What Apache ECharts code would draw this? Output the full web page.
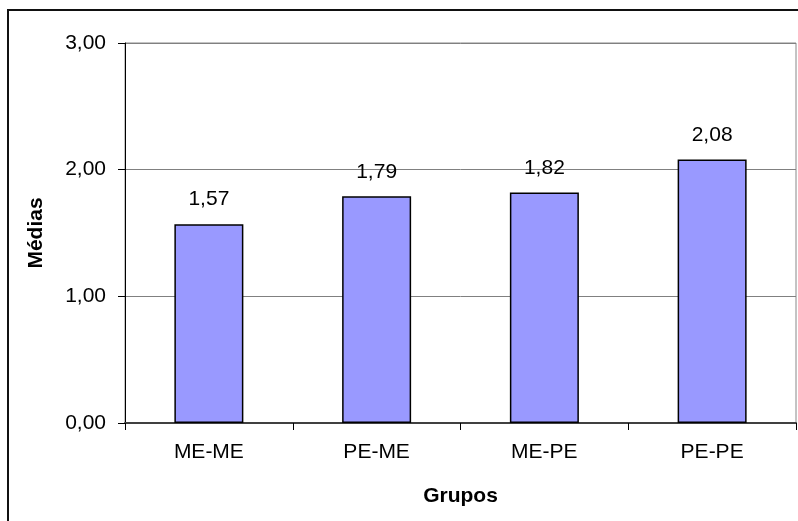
<!DOCTYPE html>
<html>
<head>
<meta charset="utf-8">
<script src="https://cdn.jsdelivr.net/npm/echarts@6/dist/echarts.min.js"></script>
<style>
html,body{margin:0;padding:0;background:#fff;}
#chart{width:798px;height:521px;}
</style>
</head>
<body>
<div id="chart"></div>
<script>
const categories = ['ME-ME', 'PE-ME', 'ME-PE', 'PE-PE'];
const medias = [1.57, 1.79, 1.82, 2.08];
const yTicks = [0, 1, 2, 3];

const fmt = v => Number(v).toFixed(2).replace('.', ',');
const FONT = 'Liberation Sans, Arial, sans-serif';

const chart = echarts.init(document.getElementById('chart'), null, {renderer: 'canvas'});
chart.setOption({
  animation: false,
  backgroundColor: '#fff',
  textStyle: {fontFamily: FONT},
  graphic: [{
    type: 'rect',
    shape: {x: 8, y: 10, width: 820, height: 540},
    style: {fill: 'none', stroke: '#111', lineWidth: 2},
    silent: true, z: 100
  }],
  grid: {
    left: 125, top: 43, right: 2, bottom: 98,
    show: true, borderColor: '#888', borderWidth: 1, backgroundColor: 'transparent'
  },
  xAxis: {
    type: 'category',
    data: categories,
    name: 'Grupos',
    nameLocation: 'middle',
    nameGap: 63,
    nameTextStyle: {fontFamily: FONT, fontSize: 21, fontWeight: 'bold', color: '#000'},
    axisLine: {lineStyle: {color: '#404040', width: 2}},
    axisTick: {show: true, length: 7, lineStyle: {color: '#000', width: 1}},
    axisLabel: {fontFamily: FONT, fontSize: 21, color: '#000', margin: 19}
  },
  yAxis: {
    type: 'value',
    min: yTicks[0],
    max: yTicks[yTicks.length - 1],
    interval: 1,
    name: 'Médias',
    nameLocation: 'middle',
    nameGap: 78,
    nameRotate: 90,
    nameTextStyle: {fontFamily: FONT, fontSize: 21, fontWeight: 'bold', color: '#000'},
    axisLine: {show: true, lineStyle: {color: '#000', width: 1}},
    axisTick: {show: true, length: 7, lineStyle: {color: '#000', width: 1}},
    axisLabel: {fontFamily: FONT, fontSize: 21, color: '#000', margin: 19, formatter: v => fmt(v)},
    splitLine: {show: true, lineStyle: {color: '#808080', width: 1}}
  },
  series: [{
    type: 'bar',
    data: medias,
    barWidth: 69,
    itemStyle: {color: '#9999FF', borderColor: '#000', borderWidth: 1.5},
    label: {
      show: true, position: 'top', distance: 14,
      fontFamily: FONT, fontSize: 21, color: '#000',
      formatter: p => fmt(p.value)
    }
  }]
});
</script>
</body>
</html>
